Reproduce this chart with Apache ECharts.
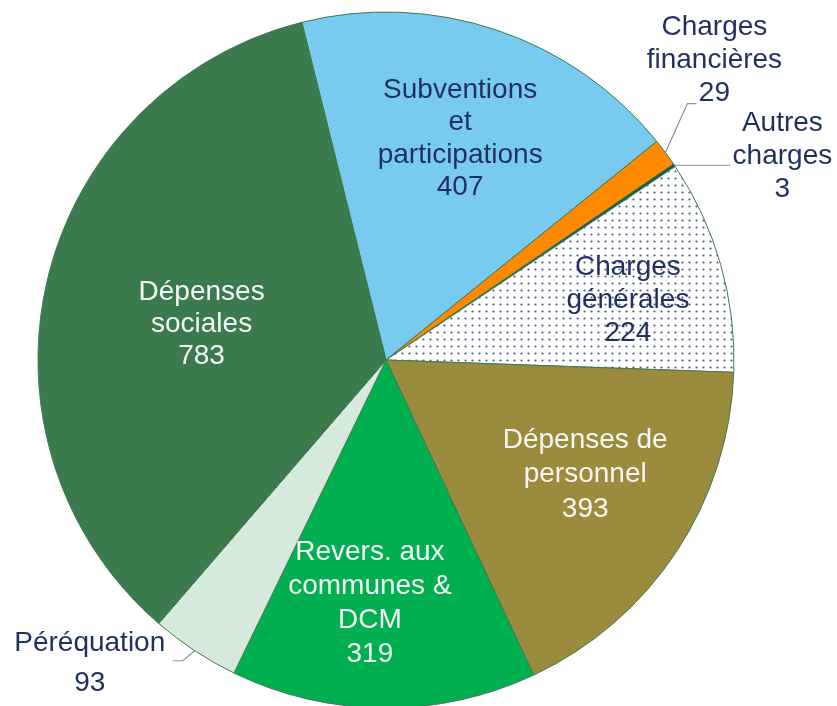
<!DOCTYPE html>
<html><head><meta charset="utf-8">
<script src="https://cdn.jsdelivr.net/npm/echarts@6/dist/echarts.min.js"></script>
<style>html,body{margin:0;padding:0;background:#fff}#c{width:837px;height:706px}</style>
</head><body><div id="c"></div>
<script>
// ---- data ----
const categories = ['Subventions\net\nparticipations', 'Charges\nfinancières', 'Autres\ncharges', 'Charges\ngénérales', 'Dépenses de\npersonnel', 'Revers. aux\ncommunes &\nDCM', 'Péréquation', 'Dépenses\nsociales'];
const values = [407, 29, 3, 224, 393, 319, 93, 783];

// ---- styles ----
const NAVY = '#1f2f5f', WHITE = '#f6f6f6';
function dotPattern() {
  const c = document.createElement('canvas'); c.width = 7; c.height = 7;
  const g = c.getContext('2d');
  g.fillStyle = '#ffffff'; g.fillRect(0, 0, 7, 7);
  g.fillStyle = '#505780'; g.beginPath(); g.arc(3.5, 3.5, 1.1, 0, Math.PI * 2); g.fill();
  return c;
}
const sliceColors = ['#78cbee', '#ff8a00', '#24543a', { image: dotPattern(), repeat: 'repeat' }, '#9a8b3d', '#00b050', '#d6eadb', '#3a7a4c'];
const labelColors = [NAVY, NAVY, NAVY, NAVY, WHITE, WHITE, NAVY, WHITE];
const labelLineHeights = [32.5, 33, 33, 33, 34.5, 34, 40, 32];
const P = [386, 360], R = 348;
// inside label placement: radial fraction k and angle tweak d (deg)
const insideLayout = { 0: { k: 0.67, d: 0 }, 3: { k: 0.716, d: -2 }, 4: { k: 0.66, d: 3.6 }, 5: { k: 0.70, d: -3.4 }, 7: { k: 0.54, d: 2.3 } };
// outside label leader-line offsets and label offsets from the line end
const outsideLayout = {
  1: { line: [[22, -49], [31, -49]], off: [18, -43] },
  2: { line: [[28, 0], [56, 0]], off: [52, -9] },
  6: { line: [[-12, 10], [-22, 10]], off: [-83, 3] }
};

const data = values.map((v, i) => {
  const out = !!outsideLayout[i];
  return {
    name: categories[i], value: v,
    itemStyle: { color: sliceColors[i] },
    label: { position: out ? 'outside' : 'inside', color: labelColors[i], lineHeight: labelLineHeights[i] },
    labelLine: { show: out }
  };
});

const chart = echarts.init(document.getElementById('c'));
chart.setOption({
  animation: false,
  backgroundColor: '#ffffff',
  series: [{
    type: 'pie',
    center: P, radius: [0, R],
    startAngle: 104, clockwise: true,
    avoidLabelOverlap: false,
    minShowLabelAngle: 0,
    itemStyle: { borderColor: '#3f7a52', borderWidth: 1 },
    emphasis: { disabled: true },
    label: {
      show: true,
      fontFamily: 'Liberation Sans, Arial, sans-serif',
      fontSize: 28,
      formatter: p => p.name + '\n' + p.value
    },
    labelLine: { lineStyle: { color: '#8a929c', width: 1.2 }, length: 20, length2: 10 },
    labelLayout: function (p) {
      const i = p.dataIndex;
      if (insideLayout[i]) {
        const r = p.labelRect;
        const cx = r.x + r.width / 2, cy = r.y + r.height / 2;
        const th = Math.atan2(-(cy - P[1]), cx - P[0]) + insideLayout[i].d * Math.PI / 180;
        return { x: P[0] + R * insideLayout[i].k * Math.cos(th), y: P[1] - R * insideLayout[i].k * Math.sin(th), align: 'center', verticalAlign: 'middle' };
      }
      const o = outsideLayout[i];
      if (!o || !p.labelLinePoints) return {};
      const p0 = p.labelLinePoints[0];
      const pts = [[p0[0], p0[1]], [p0[0] + o.line[0][0], p0[1] + o.line[0][1]], [p0[0] + o.line[1][0], p0[1] + o.line[1][1]]];
      return { x: pts[2][0] + o.off[0], y: pts[2][1] + o.off[1], align: 'center', verticalAlign: 'middle', labelLinePoints: pts };
    },
    data: data
  }]
});
</script>
</body></html>
